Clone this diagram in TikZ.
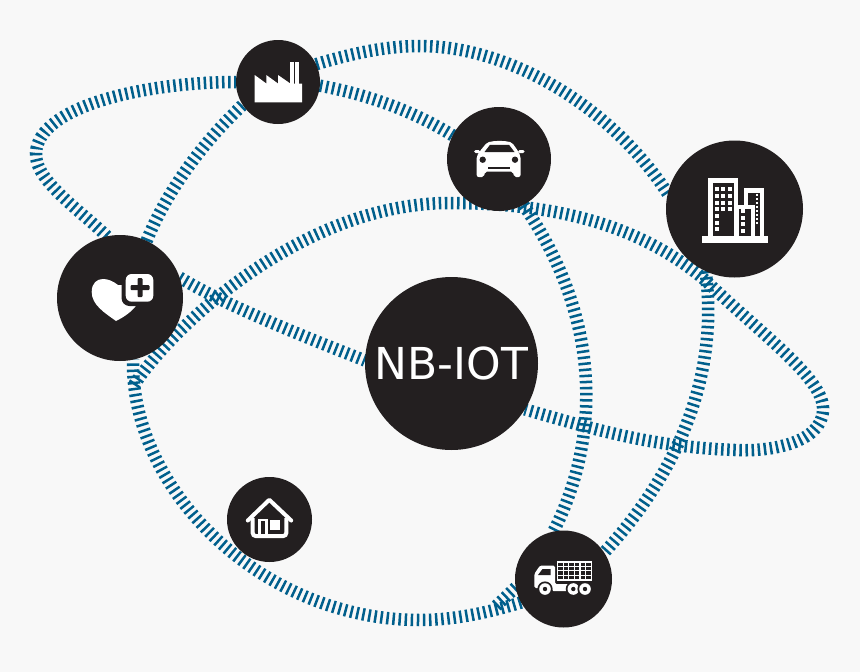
\documentclass[tikz,border=0pt]{standalone}
\usepackage{fontspec}
\usetikzlibrary{backgrounds}
\newfontfamily\labelfont{DejaVu Sans}
\definecolor{pagegrey}{RGB}{248,248,248}
\definecolor{hubblack}{RGB}{35,31,32}
\definecolor{tickblue}{RGB}{0,95,140}
\tikzset{
  hub/.style={circle,fill=hubblack,inner sep=0pt,outer sep=0pt,minimum size=#1},
  ribbon/.style={draw=tickblue,line width=12.5pt,dash pattern=on 2.5pt off 3.6pt},
  glyph/.style={fill=white,draw=none},
  cutout/.style={fill=hubblack,draw=none}
}
\begin{document}
\begin{tikzpicture}[x=1pt,y=-1pt]
  \useasboundingbox (0,0) rectangle (860,672);
  \node [hub=126pt] (health)   at (120,298)     {};
  \node [hub=84pt]  (factory)  at (278,82)      {};
  \node [hub=104pt] (car)      at (499,159)     {};
  \node [hub=137pt] (building) at (734.5,209)   {};
  \node [hub=85pt]  (home)     at (269.5,519.5) {};
  \node [hub=97pt]  (truck)    at (563.5,579)   {};
  \node [hub=173pt,text=white,font=\labelfont\fontsize{44}{44}\selectfont]
        (nbiot) at (451.5,363.5) {NB-IOT};
  \coordinate (loopwest)  at (36,153);
  \coordinate (ringtop)   at (420,46);
  \coordinate (ringlow)   at (420,620);
  \coordinate (truckend)  at (494,608);
  \coordinate (wavestart) at (134,385);
  \coordinate (wavetop)   at (450,203);
  \coordinate (wavemid)   at (705,280);
  \coordinate (wavetip)   at (823,411);
  \coordinate (wavelow)   at (735,450);
  \begin{scope}[on background layer]
    \fill [pagegrey] (0,0) rectangle (860,672);
    \draw [ribbon] (health.102) .. controls (80,210) and (34,180) .. (loopwest)
      .. controls (38,105) and (150,82) .. (factory.180);
    \draw [ribbon] (factory.-5) .. controls (370,95) and (415,112) .. (car.153);
    \draw [ribbon] (car.-62) .. controls (603,320) and (600,440) .. (truck.102);
    \draw [ribbon] (truck.190) -- (truckend);
    \draw [ribbon] (health.65) .. controls (165,195) and (200,145) .. (factory.213);
    \draw [ribbon] (factory.25) .. controls (350,54) and (385,46) .. (ringtop)
      .. controls (508,46) and (610,105) .. (building.167);
    \draw [ribbon] (building.245) .. controls (716,350) and (698,450) .. (truck.33);
    \draw [ribbon] (truck.209) .. controls (490,612) and (455,620) .. (ringlow)
      .. controls (262,620) and (130,490) .. (health.-78);
    \draw [ribbon] (wavestart) .. controls (170,330) and (300,203) .. (wavetop)
      .. controls (555,203) and (640,225) .. (wavemid)
      .. controls (762,335) and (826,380) .. (wavetip)
      .. controls (821,443) and (770,452) .. (wavelow)
      .. controls (650,447) and (590,428) .. (nbiot.-32);
    \draw [ribbon] (health.19) .. controls (225,305) and (300,335) .. (nbiot.178);
  \end{scope}
  % heart
  \fill [glyph] (116,321) .. controls (105,313) and (91.7,305) .. (91.7,292)
    .. controls (91.7,283) and (97,279) .. (103,279)
    .. controls (108,279) and (113,281) .. (118,285) -- (135,285) -- (139,302)
    .. controls (132,312) and (124,317) .. (116,321) -- cycle;
  \fill [cutout,rounded corners=8pt] (121.5,270) rectangle (157.5,306);
  \fill [glyph,rounded corners=6pt] (125.7,274) rectangle (153.3,301.7);
  \fill [cutout,rounded corners=1pt] (137.5,278.2) rectangle (142.5,297.2);
  \fill [cutout,rounded corners=1pt] (130.5,285.2) rectangle (149.5,290.2);
  % factory
  \fill [glyph] (254.7,102.3) -- (254.7,75) -- (266.3,83.5) -- (266.3,75) -- (278,83.5)
    -- (278,75) -- (290.3,83.5) -- (302,83.5) -- (302,102.3) -- cycle;
  \fill [glyph] (290.3,62.3) rectangle (293.7,84);
  \fill [glyph] (295.3,62.3) rectangle (298.7,84);
  % car
  \fill [glyph,rounded corners=1.5pt] (474,150) rectangle (480,153);
  \fill [glyph,rounded corners=1.5pt] (518,150) rectangle (524.5,153);
  \fill [glyph,rounded corners=2pt] (476.7,177) -- (476.7,156) -- (480,151) -- (487,142.5)
    .. controls (495,140.5) and (504,140.5) .. (512,142.5) -- (518,151) -- (520.5,156)
    -- (520.5,177) -- (514,177) -- (513,171.5) -- (485,171.5) -- (484,177) -- cycle;
  \fill [cutout] (484.5,152) -- (490,144.8) -- (509,144.8) -- (514.5,152) -- cycle;
  \fill [cutout] (482.7,159.7) circle (3.2pt) (515,159.7) circle (3.2pt);
  \fill [cutout] (488.3,166.8) rectangle (510,169.2);
  % building
  \fill [glyph] (701.7,235.7) rectangle (767.7,242.7);
  \fill [glyph] (708.3,178.3) rectangle (738.3,236);
  \fill [cutout] (712.7,183.3) rectangle (734.3,236);
  \fill [glyph] (744.3,188.3) rectangle (764,236);
  \fill [cutout] (748.3,192.7) rectangle (760,236);
  \fill [glyph] (735,205) rectangle (755,236);
  \fill [cutout] (739.3,209.3) rectangle (750.7,236);
  \foreach \col in {717,723.3,729.7}
    \foreach \row in {189.3,196,202.7,209.3}
      \fill [glyph] (\col-2.1,\row-2.1) rectangle (\col+2.1,\row+2.1);
  \foreach \row in {216,222.7,229.3}
    \fill [glyph] (714.9,\row-2.1) rectangle (719.1,\row+2.1);
  \foreach \row in {211,217.7,224.3,231}
    \fill [glyph] (740.9,\row-2.1) rectangle (745.1,\row+2.1);
  \foreach \row in {195,199,203,207,211,215,219,223}
    \fill [glyph] (755.9,\row-1.1) rectangle (758.1,\row+1.1);
  % home
  \draw [white,line width=4pt,line cap=round,line join=round]
    (247.8,520.5) -- (269.3,499.8) -- (291.2,520.5);
  \draw [white,line width=4pt,rounded corners=3pt]
    (252.7,518) -- (252.7,536) -- (286.3,536) -- (286.3,518);
  \draw [white,line width=2.4pt] (259.5,537) -- (259.5,520) -- (266.5,520) -- (266.5,537);
  \fill [glyph] (270.4,520.2) rectangle (280.4,529.6);
  % truck
  \fill [glyph,rounded corners=1.5pt] (534.3,588) -- (534.3,574) -- (540,565.5) -- (555,565.5)
    -- (555,584) -- (570,584) -- (570,591) -- (552,591) -- (552,588) -- cycle;
  \fill [cutout] (538,575) -- (542.5,569) -- (550.5,569) -- (550.5,575) -- cycle;
  \fill [glyph] (556.7,561) rectangle (591.7,581);
  \foreach \col in {0,...,5}
    \foreach \row in {0,...,3}
      \fill [cutout] (558.2+5.6*\col,562.5+4.45*\row) rectangle ++(4.4,3.4);
  \foreach \wx in {545,573.3,585} {
    \fill [cutout] (\wx,589) circle (7.6pt);
    \fill [glyph]  (\wx,589) circle (5.8pt);
    \fill [cutout] (\wx,589) circle (2.2pt);
  }
\end{tikzpicture}
\end{document}
